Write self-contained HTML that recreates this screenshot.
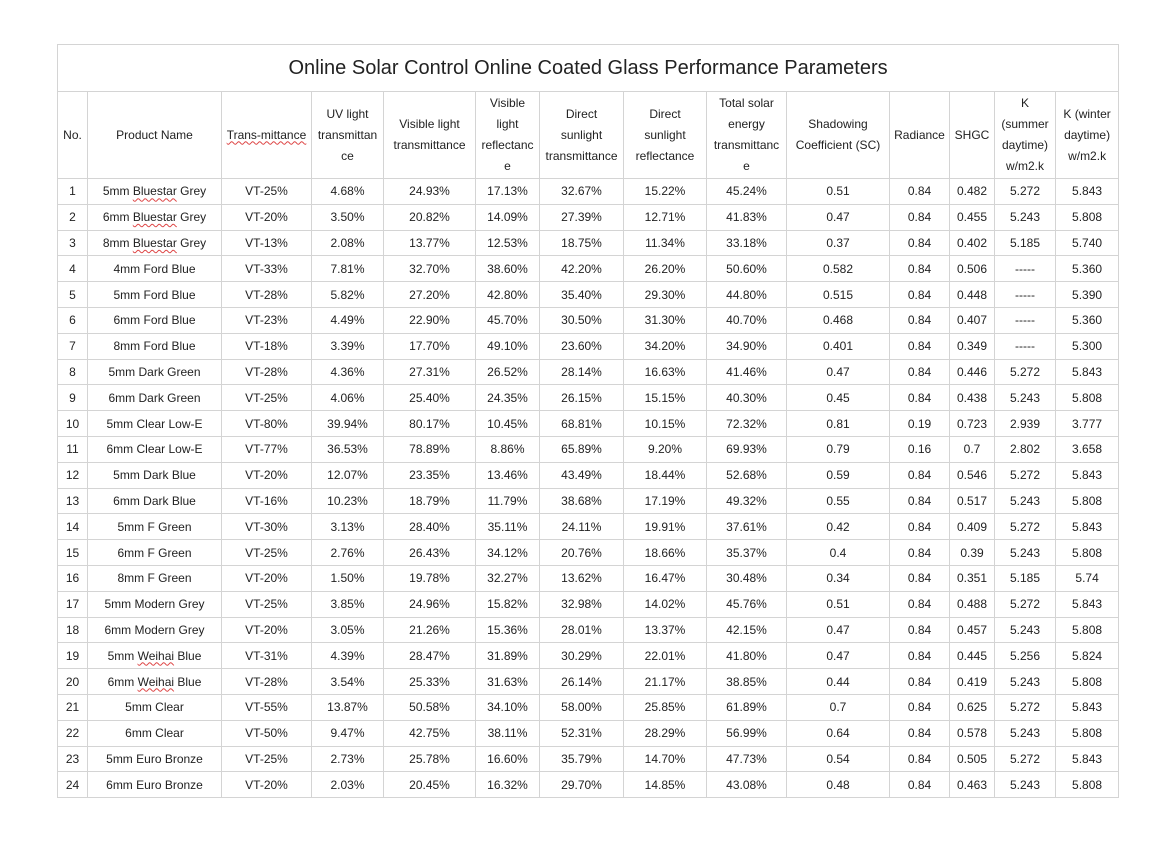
<!DOCTYPE html>
<html><head><meta charset="utf-8"><style>
body{margin:0;background:#fff;width:1175px;height:842px;overflow:hidden;font-family:"Liberation Sans",sans-serif;color:#222;}
table{position:absolute;left:57px;top:44px;border-collapse:collapse;table-layout:fixed;width:1061px;}
td{border:1px solid #d4d4d4;text-align:center;font-size:12px;padding:0;height:24.8px;line-height:14px;white-space:nowrap;overflow:hidden;}
.t td{height:46px;font-size:20px;}
.h td{height:86px;line-height:21px;}
u{text-decoration:underline wavy #d44;text-decoration-thickness:1px;text-underline-offset:2px;}
</style></head><body>
<table>
<colgroup><col style="width:30px"><col style="width:134px"><col style="width:90px"><col style="width:72px"><col style="width:92px"><col style="width:64px"><col style="width:84px"><col style="width:83px"><col style="width:80px"><col style="width:103px"><col style="width:60px"><col style="width:45px"><col style="width:61px"><col style="width:63px"></colgroup>
<tr class="t"><td colspan="14">Online Solar Control Online Coated Glass Performance Parameters</td></tr>
<tr class="h"><td>No.</td><td>Product Name</td><td><u>Trans-mittance</u></td><td>UV light<br>transmittan<br>ce</td><td>Visible light<br>transmittance</td><td>Visible<br>light<br>reflectanc<br>e</td><td>Direct<br>sunlight<br>transmittance</td><td>Direct<br>sunlight<br>reflectance</td><td>Total solar<br>energy<br>transmittanc<br>e</td><td>Shadowing<br>Coefficient (SC)</td><td>Radiance</td><td>SHGC</td><td>K<br>(summer<br>daytime)<br>w/m2.k</td><td>K (winter<br>daytime)<br>w/m2.k</td></tr>
<tr><td>1</td><td>5mm <u>Bluestar</u> Grey</td><td>VT-25%</td><td>4.68%</td><td>24.93%</td><td>17.13%</td><td>32.67%</td><td>15.22%</td><td>45.24%</td><td>0.51</td><td>0.84</td><td>0.482</td><td>5.272</td><td>5.843</td></tr>
<tr><td>2</td><td>6mm <u>Bluestar</u> Grey</td><td>VT-20%</td><td>3.50%</td><td>20.82%</td><td>14.09%</td><td>27.39%</td><td>12.71%</td><td>41.83%</td><td>0.47</td><td>0.84</td><td>0.455</td><td>5.243</td><td>5.808</td></tr>
<tr><td>3</td><td>8mm <u>Bluestar</u> Grey</td><td>VT-13%</td><td>2.08%</td><td>13.77%</td><td>12.53%</td><td>18.75%</td><td>11.34%</td><td>33.18%</td><td>0.37</td><td>0.84</td><td>0.402</td><td>5.185</td><td>5.740</td></tr>
<tr><td>4</td><td>4mm Ford Blue</td><td>VT-33%</td><td>7.81%</td><td>32.70%</td><td>38.60%</td><td>42.20%</td><td>26.20%</td><td>50.60%</td><td>0.582</td><td>0.84</td><td>0.506</td><td>-----</td><td>5.360</td></tr>
<tr><td>5</td><td>5mm Ford Blue</td><td>VT-28%</td><td>5.82%</td><td>27.20%</td><td>42.80%</td><td>35.40%</td><td>29.30%</td><td>44.80%</td><td>0.515</td><td>0.84</td><td>0.448</td><td>-----</td><td>5.390</td></tr>
<tr><td>6</td><td>6mm Ford Blue</td><td>VT-23%</td><td>4.49%</td><td>22.90%</td><td>45.70%</td><td>30.50%</td><td>31.30%</td><td>40.70%</td><td>0.468</td><td>0.84</td><td>0.407</td><td>-----</td><td>5.360</td></tr>
<tr><td>7</td><td>8mm Ford Blue</td><td>VT-18%</td><td>3.39%</td><td>17.70%</td><td>49.10%</td><td>23.60%</td><td>34.20%</td><td>34.90%</td><td>0.401</td><td>0.84</td><td>0.349</td><td>-----</td><td>5.300</td></tr>
<tr><td>8</td><td>5mm Dark Green</td><td>VT-28%</td><td>4.36%</td><td>27.31%</td><td>26.52%</td><td>28.14%</td><td>16.63%</td><td>41.46%</td><td>0.47</td><td>0.84</td><td>0.446</td><td>5.272</td><td>5.843</td></tr>
<tr><td>9</td><td>6mm Dark Green</td><td>VT-25%</td><td>4.06%</td><td>25.40%</td><td>24.35%</td><td>26.15%</td><td>15.15%</td><td>40.30%</td><td>0.45</td><td>0.84</td><td>0.438</td><td>5.243</td><td>5.808</td></tr>
<tr><td>10</td><td>5mm Clear Low-E</td><td>VT-80%</td><td>39.94%</td><td>80.17%</td><td>10.45%</td><td>68.81%</td><td>10.15%</td><td>72.32%</td><td>0.81</td><td>0.19</td><td>0.723</td><td>2.939</td><td>3.777</td></tr>
<tr><td>11</td><td>6mm Clear Low-E</td><td>VT-77%</td><td>36.53%</td><td>78.89%</td><td>8.86%</td><td>65.89%</td><td>9.20%</td><td>69.93%</td><td>0.79</td><td>0.16</td><td>0.7</td><td>2.802</td><td>3.658</td></tr>
<tr><td>12</td><td>5mm Dark Blue</td><td>VT-20%</td><td>12.07%</td><td>23.35%</td><td>13.46%</td><td>43.49%</td><td>18.44%</td><td>52.68%</td><td>0.59</td><td>0.84</td><td>0.546</td><td>5.272</td><td>5.843</td></tr>
<tr><td>13</td><td>6mm Dark Blue</td><td>VT-16%</td><td>10.23%</td><td>18.79%</td><td>11.79%</td><td>38.68%</td><td>17.19%</td><td>49.32%</td><td>0.55</td><td>0.84</td><td>0.517</td><td>5.243</td><td>5.808</td></tr>
<tr><td>14</td><td>5mm F Green</td><td>VT-30%</td><td>3.13%</td><td>28.40%</td><td>35.11%</td><td>24.11%</td><td>19.91%</td><td>37.61%</td><td>0.42</td><td>0.84</td><td>0.409</td><td>5.272</td><td>5.843</td></tr>
<tr><td>15</td><td>6mm F Green</td><td>VT-25%</td><td>2.76%</td><td>26.43%</td><td>34.12%</td><td>20.76%</td><td>18.66%</td><td>35.37%</td><td>0.4</td><td>0.84</td><td>0.39</td><td>5.243</td><td>5.808</td></tr>
<tr><td>16</td><td>8mm F Green</td><td>VT-20%</td><td>1.50%</td><td>19.78%</td><td>32.27%</td><td>13.62%</td><td>16.47%</td><td>30.48%</td><td>0.34</td><td>0.84</td><td>0.351</td><td>5.185</td><td>5.74</td></tr>
<tr><td>17</td><td>5mm Modern Grey</td><td>VT-25%</td><td>3.85%</td><td>24.96%</td><td>15.82%</td><td>32.98%</td><td>14.02%</td><td>45.76%</td><td>0.51</td><td>0.84</td><td>0.488</td><td>5.272</td><td>5.843</td></tr>
<tr><td>18</td><td>6mm Modern Grey</td><td>VT-20%</td><td>3.05%</td><td>21.26%</td><td>15.36%</td><td>28.01%</td><td>13.37%</td><td>42.15%</td><td>0.47</td><td>0.84</td><td>0.457</td><td>5.243</td><td>5.808</td></tr>
<tr><td>19</td><td>5mm <u>Weihai</u> Blue</td><td>VT-31%</td><td>4.39%</td><td>28.47%</td><td>31.89%</td><td>30.29%</td><td>22.01%</td><td>41.80%</td><td>0.47</td><td>0.84</td><td>0.445</td><td>5.256</td><td>5.824</td></tr>
<tr><td>20</td><td>6mm <u>Weihai</u> Blue</td><td>VT-28%</td><td>3.54%</td><td>25.33%</td><td>31.63%</td><td>26.14%</td><td>21.17%</td><td>38.85%</td><td>0.44</td><td>0.84</td><td>0.419</td><td>5.243</td><td>5.808</td></tr>
<tr><td>21</td><td>5mm Clear</td><td>VT-55%</td><td>13.87%</td><td>50.58%</td><td>34.10%</td><td>58.00%</td><td>25.85%</td><td>61.89%</td><td>0.7</td><td>0.84</td><td>0.625</td><td>5.272</td><td>5.843</td></tr>
<tr><td>22</td><td>6mm Clear</td><td>VT-50%</td><td>9.47%</td><td>42.75%</td><td>38.11%</td><td>52.31%</td><td>28.29%</td><td>56.99%</td><td>0.64</td><td>0.84</td><td>0.578</td><td>5.243</td><td>5.808</td></tr>
<tr><td>23</td><td>5mm Euro Bronze</td><td>VT-25%</td><td>2.73%</td><td>25.78%</td><td>16.60%</td><td>35.79%</td><td>14.70%</td><td>47.73%</td><td>0.54</td><td>0.84</td><td>0.505</td><td>5.272</td><td>5.843</td></tr>
<tr><td>24</td><td>6mm Euro Bronze</td><td>VT-20%</td><td>2.03%</td><td>20.45%</td><td>16.32%</td><td>29.70%</td><td>14.85%</td><td>43.08%</td><td>0.48</td><td>0.84</td><td>0.463</td><td>5.243</td><td>5.808</td></tr>
</table>
</body></html>
